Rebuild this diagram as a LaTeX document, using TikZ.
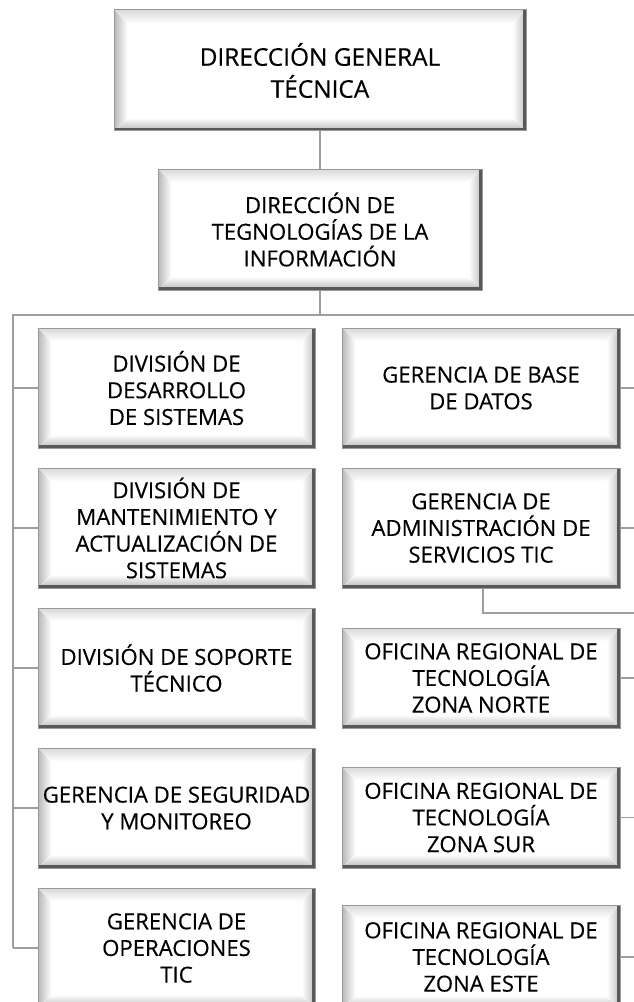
\documentclass[tikz,border=0pt]{standalone}
\usepackage{fontspec}
\setmainfont[FakeBold=0.4]{Open Sans}
\newcommand{\bvw}{10pt}
\tikzset{
  box/.style={draw=black!40, line width=0.75pt, fill=white, align=center, inner sep=0pt,
    font=\fontsize{16.6}{20}\selectfont,
    path picture={
      \path (path picture bounding box.north west) coordinate (pA)
            (path picture bounding box.north east) coordinate (pB)
            (path picture bounding box.south east) coordinate (pC)
            (path picture bounding box.south west) coordinate (pD);
      \fill[top color=black!15, bottom color=white] (pA) -- (pB) -- ([shift={(-\bvw,-\bvw)}]pB) -- ([shift={(\bvw,-\bvw)}]pA) -- cycle;
      \fill[left color=black!28, right color=white] (pA) -- ([shift={(\bvw,-\bvw)}]pA) -- ([shift={(\bvw,\bvw)}]pD) -- (pD) -- cycle;
      \fill[right color=black!25, left color=white] (pB) -- ([shift={(-\bvw,-\bvw)}]pB) -- ([shift={(-\bvw,\bvw)}]pC) -- (pC) -- cycle;
      \fill[bottom color=black!28, top color=white] (pD) -- ([shift={(\bvw,\bvw)}]pD) -- ([shift={(-\bvw,\bvw)}]pC) -- (pC) -- cycle;
      \fill[black!55] ([xshift=-1.2pt]pA) rectangle (pD);
      \fill[black!65] ([xshift=-2.2pt]pB) rectangle (pC);
      \fill[black!65] ([yshift=2.2pt]pD) rectangle (pC);
    }},
  bigbox/.style={box, font=\fontsize{18.3}{24}\selectfont},
  lbox/.style={box, minimum width=207.75pt, minimum height=90pt},
  rbox/.style={box, minimum width=208.5pt},
  conn/.style={draw=black!38, line width=1.4pt}
}
\begin{document}
\begin{tikzpicture}[x=0.75pt,y=-0.75pt]
\useasboundingbox (0,0) rectangle (634,1002);
\clip (0,0) rectangle (634,1002);
\fill[white] (0,0) rectangle (634,1002);

\node[bigbox, minimum width=309pt, minimum height=90.75pt] (dgt) at (320,70.5) {DIRECCIÓN GENERAL\\TÉCNICA};
\node[box, minimum width=243pt, minimum height=90.75pt] (dti) at (320,229.5) {DIRECCIÓN DE\\TEGNOLOGÍAS DE LA\\INFORMACIÓN};

\node[lbox] (l1) at (176.5,388) {DIVISIÓN DE\\DESARROLLO\\DE SISTEMAS};
\node[lbox] (l2) at (176.5,528) {DIVISIÓN DE\\MANTENIMIENTO Y\\ACTUALIZACIÓN DE\\SISTEMAS};
\node[lbox] (l3) at (176.5,668) {DIVISIÓN DE SOPORTE\\TÉCNICO};
\node[lbox] (l4) at (176.5,808) {GERENCIA DE SEGURIDAD\\Y MONITOREO};
\node[lbox] (l5) at (176.5,948) {GERENCIA DE\\OPERACIONES\\TIC};

\node[rbox, minimum height=90pt] (r1) at (481,388) {GERENCIA DE BASE\\DE DATOS};
\node[rbox, minimum height=90pt] (r2) at (481,528) {GERENCIA DE\\ADMINISTRACIÓN DE\\SERVICIOS TIC};
\node[rbox, minimum height=75pt] (r3) at (481,678) {OFICINA REGIONAL DE\\TECNOLOGÍA\\ZONA NORTE};
\node[rbox, minimum height=75.75pt] (r4) at (481,817.5) {OFICINA REGIONAL DE\\TECNOLOGÍA\\ZONA SUR};
\node[rbox, minimum height=78pt] (r5) at (481,957) {OFICINA REGIONAL DE\\TECNOLOGÍA\\ZONA ESTE};

\coordinate (bus) at (320,315);
\coordinate (busL) at (13,315);
\coordinate (busR) at (634,315);
\coordinate (busB) at (13,948);
\coordinate (admR) at (634,613);

\draw[conn] (dgt) -- (dti);
\draw[conn] (dti.south) -- (bus);
\draw[conn] (busR) -- (busL) -- (busB);
\foreach \n in {l1,l2,l3,l4,l5} \draw[conn] (\n.west) -- (\n.west -| busL);
\foreach \n in {r1,r2,r3,r4,r5} \draw[conn] (\n.east) -- (\n.east -| busR);
\draw[conn] ([xshift=1.5pt]r2.south) |- (admR);
\end{tikzpicture}
\end{document}
